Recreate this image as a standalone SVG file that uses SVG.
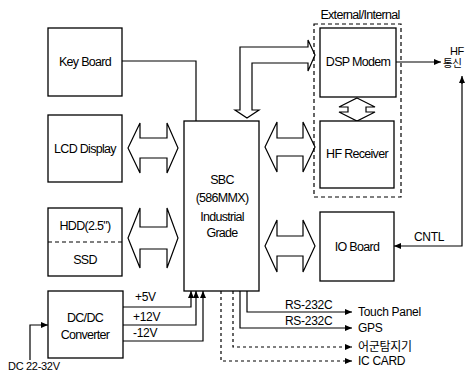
<svg xmlns="http://www.w3.org/2000/svg" width="465" height="373" viewBox="0 0 465 373">
<style>
.box{fill:#fff;stroke:#000;stroke-width:1.3}
.dash{fill:none;stroke:#000;stroke-width:1.2;stroke-dasharray:4,3}
.ln{fill:none;stroke:#000;stroke-width:1.2}
.dl{fill:none;stroke:#000;stroke-width:1.2;stroke-dasharray:3,3}
.ha{fill:#fff;stroke:#000;stroke-width:1.2;stroke-linejoin:miter}
.t{font-family:"Liberation Sans",Arial,sans-serif;font-size:12.5px;text-anchor:middle;letter-spacing:-0.7px;fill:#000}
.s{font-family:"Liberation Sans",Arial,"Noto Sans CJK KR",sans-serif;font-size:12px;letter-spacing:-0.3px;fill:#000}
</style>
<defs>
<marker id="ah" markerWidth="7" markerHeight="6" refX="7" refY="3" orient="auto" markerUnits="userSpaceOnUse">
<path d="M0,0 L7,3 L0,6 z" fill="#000"/>
</marker>
</defs>

<g id="connectors">
<polyline class="ln" points="122,61 196,61 196,121"/>
<polygon class="ha" points="247,118 259,110 252,110 252,63 308,63 308,71 315,55 308,40 308,47 240,47 240,110 235,110"/>
<polygon class="ha" points="128,148 140,123 140,138 167,138 167,123 178,148 167,173 167,158 140,158 140,173"/>
<polygon class="ha" points="128,238 140,208 140,227 167,227 167,208 178,238 167,268 167,249 140,249 140,268"/>
<polygon class="ha" points="265,147 277,122 277,138 303,138 303,122 315,147 303,172 303,156 277,156 277,172"/>
<polygon class="ha" points="265,246 277,220 277,236 303,236 303,220 315,246 303,272 303,256 277,256 277,272"/>
<polygon class="ha" points="357,98 375,107 366,107 366,112 375,112 357,121 339,112 348,112 348,107 339,107"/>
<line class="ln" x1="396" y1="62" x2="441" y2="62" marker-end="url(#ah)"/>
<polyline class="ln" points="462,78 462,246 394,246" marker-end="url(#ah)"/>
<line class="ln" x1="462" y1="84" x2="462" y2="76" marker-end="url(#ah)"/>
<polyline class="ln" points="30,360 30,325 48,325" marker-end="url(#ah)"/>
<polyline class="ln" points="123,307 191,307 191,291" marker-end="url(#ah)"/>
<polyline class="ln" points="123,325 196,325 196,291" marker-end="url(#ah)"/>
<polyline class="ln" points="123,341 203,341 203,291" marker-end="url(#ah)"/>
<polyline class="ln" points="247,291 247,312 352,312" marker-end="url(#ah)"/>
<polyline class="ln" points="240,291 240,328 352,328" marker-end="url(#ah)"/>
<polyline class="dl" points="233,291 233,347 352,347" marker-end="url(#ah)"/>
<polyline class="dl" points="221,291 221,361 352,361" marker-end="url(#ah)"/>
</g>

<g id="keyboard"><rect class="box" x="48" y="28" width="74" height="68"/><text class="t" x="85" y="66">Key Board</text></g>
<g id="lcd"><rect class="box" x="48" y="115" width="74" height="67"/><text class="t" x="85" y="153">LCD Display</text></g>
<g id="hdd"><rect class="box" x="48" y="208" width="74" height="68"/><line class="dash" x1="48" y1="242" x2="122" y2="242"/><text class="t" x="85" y="230">HDD(2.5")</text><text class="t" x="85" y="264">SSD</text></g>
<g id="dcdc"><rect class="box" x="48" y="291" width="75" height="67"/><text class="t" x="85" y="322">DC/DC</text><text class="t" x="85" y="339">Converter</text></g>
<g id="sbc"><rect class="box" x="184" y="121" width="75" height="170"/>
<text class="t" x="222" y="184">SBC</text><text class="t" x="222" y="202">(586MMX)</text><text class="t" x="222" y="221">Industrial</text><text class="t" x="222" y="237">Grade</text></g>
<g id="extint"><rect class="dash" x="314" y="24" width="87" height="173"/><text class="t" x="360" y="19">External/Internal</text></g>
<g id="dsp"><rect class="box" x="320" y="28" width="76" height="69"/><text class="t" x="358" y="66">DSP Modem</text></g>
<g id="hf"><rect class="box" x="320" y="121" width="74" height="67"/><text class="t" x="357" y="158">HF Receiver</text></g>
<g id="io"><rect class="box" x="320" y="212" width="74" height="69"/><text class="t" x="357" y="251">IO Board</text></g>

<g id="labels">
<text class="s" x="464" y="55" style="text-anchor:end;font-size:11px">HF</text>
<text class="s" x="443" y="67" style="font-size:10.5px">통신</text>
<text class="s" x="414" y="241">CNTL</text>
<text class="s" x="135" y="301">+5V</text>
<text class="s" x="133" y="321">+12V</text>
<text class="s" x="133" y="337">-12V</text>
<text class="s" x="8" y="370" style="font-size:11px">DC 22-32V</text>
<text class="s" x="285" y="309">RS-232C</text>
<text class="s" x="285" y="325">RS-232C</text>
<text class="s" x="358" y="316">Touch Panel</text>
<text class="s" x="358" y="332">GPS</text>
<text class="s" x="358" y="351">어군탐지기</text>
<text class="s" x="358" y="365">IC CARD</text>
</g>
</svg>
